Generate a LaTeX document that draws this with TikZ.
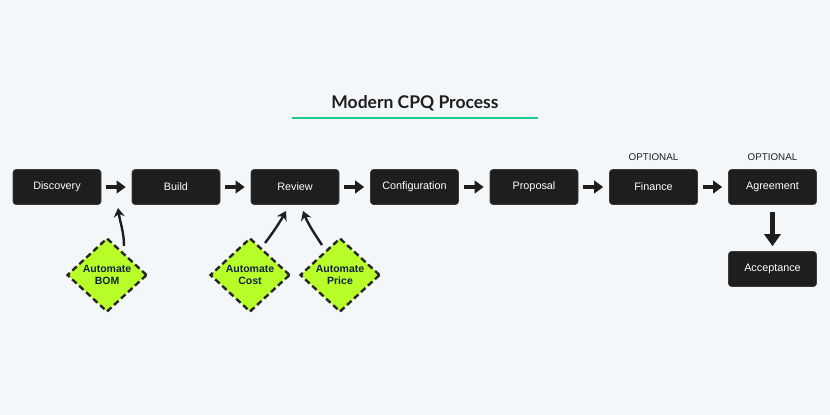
\documentclass[tikz,border=0pt]{standalone}
\usepackage{fontspec}
\setmainfont{Liberation Sans}
\newfontfamily\titlefont{Lato}
\usetikzlibrary{shapes.geometric,arrows.meta}
\definecolor{bg}{HTML}{F4F7FA}
\definecolor{boxfill}{HTML}{1E1E1E}
\definecolor{lime}{HTML}{B8FF2A}
\definecolor{navy}{HTML}{14213D}
\definecolor{green}{HTML}{1FCB8C}
\begin{document}
\begin{tikzpicture}[x=1pt,y=-1pt,
  stepbox/.style={draw=boxfill!70!gray,line width=0.6pt,fill=boxfill,rounded corners=3pt,minimum width=88pt,minimum height=35pt,text=white,font=\fontsize{10.8}{12}\selectfont,inner sep=0pt},
  auto/.style={diamond,draw=black!85,fill=lime,line width=2.4pt,dash pattern=on 6pt off 3.5pt,minimum width=80pt,minimum height=74pt,inner sep=0pt,align=center,text=navy,font=\bfseries\fontsize{10.5}{11.5}\selectfont},
  flow/.style={line width=3.8pt,draw=boxfill,-{Triangle[length=9pt,width=12.5pt]}},
  bigflow/.style={line width=4.2pt,draw=boxfill,-{Triangle[length=12pt,width=16pt]}},
  feed/.style={line width=2.4pt,draw=boxfill,-{Stealth[length=9pt,width=11pt,inset=3pt]}},
  lab/.style={font=\fontsize{9.8}{11}\selectfont,text=boxfill}]
\fill[bg] (0,0) rectangle (830,415);
\useasboundingbox (0,0) rectangle (830,415);
\node[font=\titlefont\bfseries\fontsize{17.5}{20}\selectfont,text=boxfill] (title) at (415,103) {Modern CPQ Process};
\coordinate (ul) at (292,118);
\coordinate (ur) at (538,118);
\draw[green,line width=2pt] (ul) -- (ur);
\node[stepbox] (disc) at (57,187) {Discovery};
\node[stepbox] (build) at (176,187) {Build};
\node[stepbox] (rev) at (295,187) {Review};
\node[stepbox] (conf) at (414.5,187) {Configuration};
\node[stepbox] (prop) at (534,187) {Proposal};
\node[stepbox] (fin) at (653.5,187) {Finance};
\node[stepbox] (agr) at (772.5,187) {Agreement};
\node[stepbox] (acc) at (772.5,269) {Acceptance};
\node[lab] (opt1) at (653.5,157) {OPTIONAL};
\node[lab] (opt2) at (772.5,157) {OPTIONAL};
\foreach \a/\b in {disc/build,build/rev,rev/conf,conf/prop,prop/fin,fin/agr}{
  \draw[flow] ([xshift=5pt]\a.east) -- ([xshift=-6pt]\b.west);
}
\draw[bigflow] ([yshift=-7pt]agr.south) -- ([yshift=5pt]acc.north);
\node[auto] (bom) at (107,275) {Automate\\BOM};
\node[auto] (cost) at (250,275) {Automate\\Cost};
\node[auto] (price) at (340,275) {Automate\\Price};
\coordinate (bomtip) at (118,208);
\coordinate (costtip) at (286,211);
\coordinate (pricetip) at (303,211);
\draw[feed] (124,246) .. controls (124,232) and (120,222) .. (bomtip);
\draw[feed] (265,243) .. controls (272,234) and (280,222) .. (costtip);
\draw[feed] (322,245) .. controls (316,236) and (308,224) .. (pricetip);
\end{tikzpicture}
\end{document}
